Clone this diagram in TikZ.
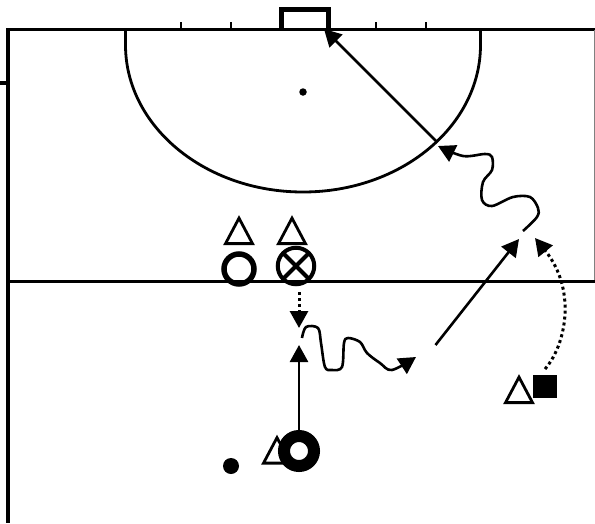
\documentclass[tikz,border=0pt]{standalone}
\usetikzlibrary{arrows.meta,shapes.geometric}
\tikzset{
  player/.style={draw,line width=2.8pt,isosceles triangle,isosceles triangle stretches,shape border rotate=90,minimum width=27pt,minimum height=25.5pt,inner sep=0pt},
  run/.style={line width=2.6pt,-{Triangle[length=17pt,width=18pt]}},
  offball/.style={run,dash pattern=on 3pt off 3pt,line width=3pt},
  dribble/.style={run,line join=round}
}
\begin{document}
\begin{tikzpicture}[x=1pt,y=-1pt]
\useasboundingbox (0,0) rectangle (595,523);

% pitch
\draw [line width=3.4pt] (7,29.5) -- (595,29.5);
\draw [line width=3.6pt] (8,28) -- (8,523);
\draw [line width=3.4pt] (8,281.5) -- (595,281.5);
\draw [line width=4pt] (0,83) -- (8,83);
\draw [gray,line width=1pt] (594.5,30) -- (594.5,280);
\draw [line width=2.5pt] (181,22) -- (181,29) (231,22) -- (231,29) (376,22) -- (376,29) (426,22) -- (426,29);
\draw [line width=5pt] (281,29) -- (281,9) -- (328,9) -- (328,29);
\draw [line width=2.8pt] (125.5,30) -- (125.5,45) arc [start angle=180,end angle=0,x radius=177.5,y radius=147] -- (480.5,30);
\node (spot) at (303,92) [circle,fill,minimum size=7.5pt,inner sep=0pt] {};

% players
\node (ptopa)  at (239,235.5) [player] {};
\node (ptopb)  at (292,235.5) [player] {};
\node (pright) at (519,394.5) [player] {};
\node (pring)  at (277,455) [player] {};
\node (mark)   at (239,269) [draw,circle,line width=5.5pt,minimum size=30pt,inner sep=0pt] {};
\node (cross)  at (296,266) [draw,circle,line width=4pt,minimum size=36.5pt,inner sep=0pt,outer sep=0pt] {};
\draw [line width=4pt] (cross.45) -- (cross.225);
\draw [line width=4pt] (cross.135) -- (cross.315);
\node (square) at (545,386.5) [fill,minimum width=24pt,minimum height=23pt,inner sep=0pt] {};
\node (ring)   at (299,451) [draw,circle,line width=12pt,minimum size=30pt,inner sep=0pt] {};
\node (ball)   at (231,466) [circle,fill,minimum size=16pt,inner sep=0pt] {};

% free ends
\coordinate (dropa)  at (299,292);
\coordinate (tipa)   at (299,328);
\coordinate (tipb)   at (299,345);
\coordinate (drba)   at (302,338);
\coordinate (tipc)   at (416,357);
\coordinate (passa)  at (435.5,345);
\coordinate (tipd)   at (519,239);
\coordinate (curva)  at (545,369);
\coordinate (tipe)   at (535,238);
\coordinate (drbb)   at (523,231);
\coordinate (tipf)   at (438,146);
\coordinate (shot)   at (437,142);
\coordinate (goal)   at (324,29);

\draw [offball] (dropa) -- (tipa);
\draw [run] (ring) -- (tipb);
\draw [run] (passa) -- (tipd);
\draw [run] (shot) -- (goal);
\draw [offball] (curva) .. controls (566,345) and (577,290) .. (tipe);
\draw [dribble] plot [smooth,tension=0.55] coordinates {(drba) (306,327) (318,328) (321,343) (325,367) (332,370) (342,367) (344,343) (348,338) (360,342) (367,353) (380,363) (392,370) (tipc)};
\draw [dribble] plot [smooth,tension=0.55] coordinates {(drbb) (537,217) (538,208) (530,197) (513,197) (492,206) (482,200) (483,182) (492,170) (492,157) (485,154) (463,156) (tipf)};
\end{tikzpicture}
\end{document}
